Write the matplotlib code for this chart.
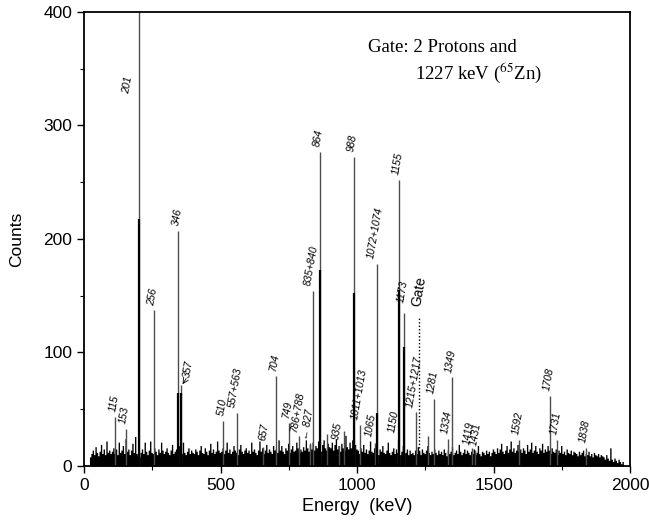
import matplotlib.pyplot as plt
import numpy as np

plt.rcParams['font.family'] = ['Liberation Sans', 'DejaVu Sans']
plt.rcParams['mathtext.fontset'] = 'stix'

# background counts in 5 keV bins
bg_start = 20
bg_low = [8, 11, 14, 10, 17, 12, 9, 13, 19, 11, 15, 10, 22, 12, 14, 11,
          13, 16, 11, 15, 10, 21, 12, 14, 18, 11, 24, 13, 15, 10, 14, 20, 12, 26, 11, 9,
          8, 12, 15, 11, 21, 13, 10, 14, 22, 12, 11, 16, 13, 10, 15, 12, 21, 14, 11, 13,
          16, 12, 10, 14, 19, 11, 13, 15, 12, 18, 14, 11, 21, 12, 10, 13, 16, 11, 14, 12,
          11, 15, 13, 10, 14, 18, 12, 11, 16, 13, 10, 14, 20, 12, 15, 11, 13, 22, 14, 12]
bg_mid = [13, 16, 11, 14, 21, 12, 15, 11, 13, 18, 14, 12, 10, 15, 19, 13, 11, 14, 16, 12,
          14, 11, 21, 13, 15, 12, 10, 14, 22, 13, 16, 11, 14, 19, 12, 15, 13, 11, 18, 14,
          15, 12, 23, 14, 18, 13, 11, 16, 14, 20, 12, 15, 18, 13, 14, 21, 16, 12, 15, 13,
          17, 14, 23, 16, 13, 19, 15, 21, 14, 18, 16, 22, 15, 13, 19, 23, 16, 14, 20, 17,
          16, 21, 14, 19, 24, 15, 18, 13, 20, 16, 14, 27, 17, 15, 21, 16, 23, 14, 19, 15]
bg_high = [14, 11, 16, 13, 19, 12, 15, 11, 14, 22, 13, 12, 16, 11, 14, 10, 15, 13, 18, 12,
           11, 14, 21, 12, 10, 13, 16, 11, 15, 12, 14, 10, 13, 18, 11, 12, 15, 10, 14, 11,
           12, 10, 14, 11, 17, 13, 10, 15, 12, 11, 14, 18, 12, 10, 13, 11, 15, 12, 10, 14,
           11, 13, 10, 15, 12, 9, 14, 11, 13, 17, 10, 12, 14, 11, 19, 13, 10, 12, 15, 11,
           14, 12, 10, 13, 11, 15, 10, 12, 18, 11, 9, 13, 12, 10, 14, 11, 13, 9, 12, 15]
bg_top = [13, 11, 16, 12, 15, 20, 13, 11, 14, 18, 12, 15, 22, 13, 16, 12, 14, 19, 13, 15,
          12, 16, 14, 11, 19, 13, 15, 21, 12, 14, 18, 13, 11, 16, 14, 20, 12, 15, 13, 18,
          14, 11, 16, 13, 12, 15, 10, 14, 12, 18, 11, 13, 10, 15, 12, 11, 14, 10, 13, 12,
          11, 9, 13, 10, 12, 14, 9, 11, 10, 13, 9, 11, 8, 12, 10, 9, 11, 8, 10, 9,
          8, 6, 10, 7, 5, 16, 6, 4, 7, 5, 3, 6, 4, 2, 4, 0]

# peaks: energy, top of line, darker lower part (0 = none), label
peak_e = [115, 153, 201, 256, 346, 357, 510, 560, 657, 704, 749, 787, 827, 837,
          864, 890, 935, 952, 988, 1012, 1065, 1073, 1150, 1155, 1173, 1216,
          1258, 1281, 1334, 1349, 1419, 1431, 1592, 1708, 1731, 1838]
peak_top = [43, 33, 450, 137, 207, 71, 40, 47, 17, 79, 38, 26, 20, 154,
            277, 28, 18, 31, 272, 36, 20, 178, 23, 252, 135, 48,
            26, 59, 24, 78, 16, 14, 23, 62, 23, 16]
peak_dark = [0, 0, 218, 0, 64, 64, 0, 0, 0, 0, 0, 0, 0, 0,
             173, 0, 0, 0, 152, 0, 0, 47, 0, 155, 105, 0,
             0, 0, 0, 0, 0, 0, 0, 0, 0, 0]
peak_lab = ['115', '153', '201', '256', '346', '357', '510', '557+563', '657', '704',
            '749', '786+788', '\u2190 827', '835+840', '864', '', '935', '', '988',
            '1011+1013', '1065', '1072+1074', '1150', '1155', '1173', '1215+1217',
            '', '1281', '1334', '1349', '1419', '1431', '1592', '1708', '1731', '1838']

# labels that do not sit right above their line
lab_pos = {'201': (160, 327), '357': (382, 77), '\u2190 827': (818, 23),
           '657': (660, 22), '935': (926, 23), '1065': (1050, 25),
           '1150': (1135, 29), '1173': (1168, 143), '1215+1217': (1208, 51),
           '1419': (1410, 18), '1431': (1434, 17)}

gate_e = 1227

bg = bg_low + bg_mid + bg_high + bg_top
bg_e = bg_start + 5 * np.arange(len(bg))

fig = plt.figure(figsize=(6.49, 5.25), dpi=100)
ax = fig.add_axes([0.1294, 0.1124, 0.8416, 0.8648])

ax.fill_between(np.append(bg_e, bg_e[-1] + 5), bg + [bg[-1]], step='post',
                color='black', lw=0)
ax.vlines(peak_e, 0, peak_top, color='0.3', lw=1.0)
for e, d in zip(peak_e, peak_dark):
    if d > 0:
        ax.vlines(e, 0, d, color='black', lw=1.6)

for e, t, lab in zip(peak_e, peak_top, peak_lab):
    if not lab:
        continue
    x, y = lab_pos.get(lab, (e - 5, t + 4))
    ax.text(x, y, lab, rotation=80, ha='center', va='bottom',
            fontsize=7.5, style='italic')

ax.annotate('', xy=(361, 72), xytext=(374, 77),
            arrowprops=dict(arrowstyle='->', lw=0.6, shrinkA=0, shrinkB=0))

ax.vlines(gate_e, 10, 130, color='black', lw=1.0, linestyles=(0, (1, 1.5)))
ax.text(gate_e, 140, 'Gate', rotation=80, ha='center', va='bottom', fontsize=10)

ax.text(1040, 365, 'Gate: 2 Protons and', family='Liberation Serif', fontsize=13.5)
ax.text(1212, 341, '1227 keV ($^{65}$Zn)', family='Liberation Serif', fontsize=13.5)

ax.set_xlim(0, 2000)
ax.set_ylim(0, 400)
ax.set_xticks([0, 500, 1000, 1500, 2000])
ax.set_xticks(np.arange(0, 2001, 250), minor=True)
ax.set_yticks([0, 100, 200, 300, 400])
ax.set_yticks(np.arange(0, 401, 50), minor=True)
ax.tick_params(which='major', length=5, width=1, labelsize=12.5, direction='out')
ax.tick_params(which='minor', length=3, width=0.8, direction='out')
for s in ax.spines.values():
    s.set_linewidth(1.3)

ax.set_xlabel('Energy  (keV)', fontsize=13, labelpad=4)
ax.set_ylabel('Counts', fontsize=12.5, labelpad=14)

fig.savefig('out.png', dpi=100)
